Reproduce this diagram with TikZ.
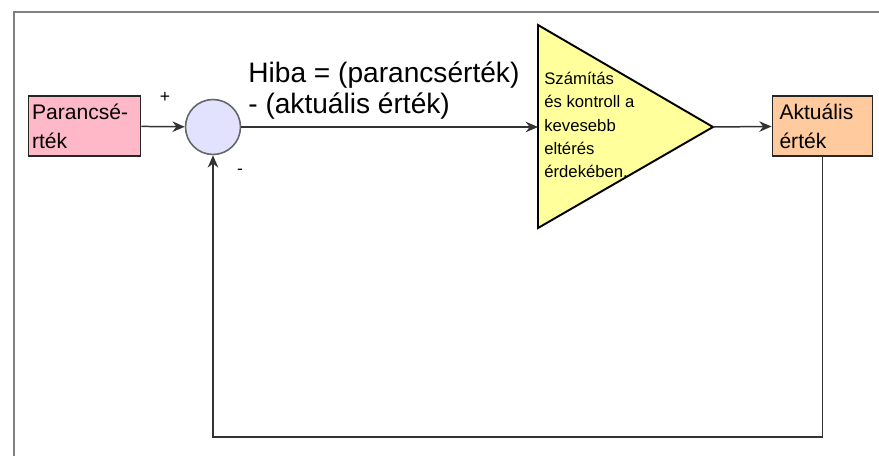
\documentclass[tikz,border=0pt]{standalone}
\usepackage{fontspec}
\usetikzlibrary{arrows.meta}
\setmainfont{Liberation Sans}
\definecolor{cmdpink}{HTML}{FFB8C8}
\definecolor{sumblue}{HTML}{E2E2FF}
\definecolor{ctrlyellow}{HTML}{FFFF9C}
\definecolor{actpeach}{HTML}{FFCA9E}
\definecolor{wire}{HTML}{333333}
\tikzset{
  valbox/.style={draw=black!85,line width=1.1pt,minimum height=1.2cm,align=left,
    font=\fontsize{12}{16.5}\selectfont,inner ysep=2pt},
  flow/.style={draw=wire,line width=0.85pt},
  frame/.style={draw=gray,line width=1.4pt},
}
\begin{document}
\begin{tikzpicture}[x=0.02cm,y=-0.02cm,>={Stealth[length=7pt,width=6pt]}]
  \useasboundingbox (0,0) rectangle (879,456);
  \draw[frame] (14,456) -- (14,12) -- (879,12);
  % blocks
  \node [valbox,fill=cmdpink,text width=2.1cm,inner xsep=0.07cm] (cmd) at (84.5,126) {Parancsé-\\rték};
  \node [circle,draw=gray!80!black,line width=0.9pt,fill=sumblue,minimum size=1.1cm] (sum) at (213,127) {};
  \node [valbox,fill=actpeach,text width=1.72cm,inner xsep=0.14cm] (act) at (822.5,126) {Aktuális\\érték};
  \draw[line width=1.1pt,line join=miter,fill=ctrlyellow] (538,25) -- (713,127) -- (538,228) -- cycle;
  \coordinate (ctrl-in) at (538,127);
  \coordinate (ctrl-out) at (713,127);
  \node [anchor=north west,inner sep=0,align=left,font=\fontsize{9.5}{13.2}\selectfont] (ctrl) at (544,72)
    {Számítás\\és kontroll a\\kevesebb\\eltérés\\érdekében.};
  % labels
  \node [anchor=north west,inner sep=0,align=left,font=\fontsize{16}{17.8}\selectfont] (err) at (248,61)
    {Hiba = (parancsérték)\\- (aktuális érték)};
  \node [font=\fontsize{10}{12}\selectfont,inner sep=0] (plus) at (165,97) {+};
  \node [font=\fontsize{10}{12}\selectfont,inner sep=0] (minus) at (240,172) {-};
  % connectors
  \draw[flow,->] (cmd) -- (sum);
  \draw[flow,->] (sum) -- (ctrl-in);
  \draw[flow,->] (ctrl-out) -- (act);
  \draw[flow,->] (act.south) -- (act.south |- 0,437) -| (sum.south);
\end{tikzpicture}
\end{document}
